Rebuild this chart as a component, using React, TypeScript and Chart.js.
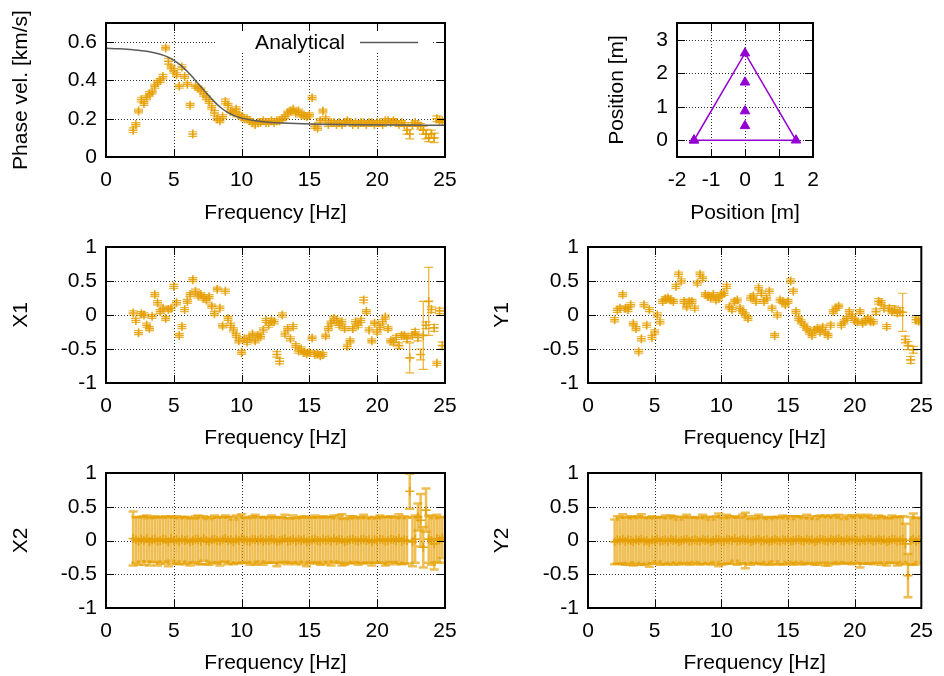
import React, { useEffect, useRef } from 'react';
import { Chart, registerables } from 'chart.js';

Chart.register(...registerables);

const FONT = '"Liberation Sans", Arial, Helvetica, sans-serif';
const TICK_SIZE = 21;
const TITLE_SIZE = 21;
const ORANGE = 'rgba(230,159,0,0.9)';
const ORANGE_BAR = 'rgba(230,159,0,0.8)';
const ORANGE_BAND = 'rgba(230,159,0,0.68)';
const PURPLE = '#9400d3';
const GREY = '#5a5a5a';

// ---------- data ----------
const freq = [
  2.0, 2.2, 2.4, 2.6, 2.8, 3.0, 3.2, 3.4, 3.6, 3.8,
  4.0, 4.2, 4.4, 4.6, 4.8, 5.0, 5.2, 5.4, 5.6, 5.8,
  6.0, 6.2, 6.4, 6.6, 6.8, 7.0, 7.2, 7.4, 7.6, 7.8,
  8.0, 8.2, 8.4, 8.6, 8.8, 9.0, 9.2, 9.4, 9.6, 9.8,
  10.0, 10.2, 10.4, 10.6, 10.8, 11.0, 11.2, 11.4, 11.6, 11.8,
  12.0, 12.2, 12.4, 12.6, 12.8, 13.0, 13.2, 13.4, 13.6, 13.8,
  14.0, 14.2, 14.4, 14.6, 14.8, 15.0, 15.2, 15.4, 15.6, 15.8,
  16.0, 16.2, 16.4, 16.6, 16.8, 17.0, 17.2, 17.4, 17.6, 17.8,
  18.0, 18.2, 18.4, 18.6, 18.8, 19.0, 19.2, 19.4, 19.6, 19.8,
  20.0, 20.2, 20.4, 20.6, 20.8, 21.0, 21.2, 21.4, 21.6, 21.8,
  22.0, 22.2, 22.4, 22.6, 22.8, 23.0, 23.2, 23.4, 23.6, 23.8,
  24.0, 24.2, 24.4, 24.6, 24.8,
];

const phaseVel = [
  0.14, 0.17, 0.24, 0.30, 0.28, 0.31, 0.33, 0.34, 0.37, 0.39,
  0.40, 0.42, 0.57, 0.50, 0.47, 0.45, 0.43, 0.37, 0.47, 0.42,
  0.38, 0.27, 0.12, 0.37, 0.36, 0.35, 0.33, 0.31, 0.29, 0.26,
  0.23, 0.20, 0.19, 0.21, 0.29, 0.27, 0.24, 0.23, 0.25, 0.22,
  0.21, 0.20, 0.20, 0.19, 0.18, 0.17, 0.18, 0.18, 0.19, 0.18,
  0.18, 0.19, 0.18, 0.19, 0.19, 0.20, 0.21, 0.23, 0.24, 0.25,
  0.23, 0.24, 0.22, 0.22, 0.21, 0.22, 0.31, 0.16, 0.15, 0.19,
  0.24, 0.20, 0.17, 0.18, 0.18, 0.17, 0.18, 0.17, 0.18, 0.19,
  0.18, 0.17, 0.18, 0.17, 0.18, 0.18, 0.17, 0.18, 0.18, 0.17,
  0.18, 0.18, 0.17, 0.19, 0.19, 0.18, 0.19, 0.18, 0.17, 0.18,
  0.17, 0.14, 0.12, 0.17, 0.18, 0.17, 0.16, 0.14, 0.12, 0.10,
  0.12, 0.10, 0.20, 0.19, 0.19,
];
const phaseErr = [
  0.012, 0.01, 0.01, 0.012, 0.01, 0.01, 0.012, 0.01, 0.01, 0.01,
  0.01, 0.012, 0.01, 0.015, 0.01, 0.012, 0.01, 0.01, 0.012, 0.01,
  0.01, 0.01, 0.012, 0.01, 0.01, 0.01, 0.012, 0.01, 0.01, 0.01,
  0.012, 0.01, 0.01, 0.01, 0.012, 0.01, 0.01, 0.01, 0.012, 0.01,
  0.01, 0.01, 0.01, 0.01, 0.01, 0.012, 0.01, 0.01, 0.01, 0.01,
  0.01, 0.01, 0.01, 0.01, 0.01, 0.01, 0.01, 0.01, 0.01, 0.01,
  0.01, 0.01, 0.01, 0.01, 0.01, 0.01, 0.01, 0.01, 0.01, 0.01,
  0.01, 0.01, 0.01, 0.01, 0.01, 0.01, 0.01, 0.01, 0.01, 0.01,
  0.01, 0.01, 0.01, 0.01, 0.01, 0.01, 0.01, 0.01, 0.01, 0.01,
  0.01, 0.01, 0.01, 0.01, 0.01, 0.01, 0.01, 0.01, 0.01, 0.01,
  0.01, 0.02, 0.025, 0.01, 0.01, 0.01, 0.015, 0.02, 0.025, 0.02,
  0.02, 0.025, 0.015, 0.01, 0.01,
];

const analyticFreq = [0, 1, 2, 3, 4, 4.5, 5, 5.5, 6, 6.5, 7, 7.5, 8, 8.5, 9, 9.5, 10, 11, 12, 13, 15, 18, 21, 25];
const analyticVel = [0.568, 0.565, 0.56, 0.552, 0.537, 0.524, 0.505, 0.48, 0.447, 0.408, 0.367, 0.326, 0.288, 0.256, 0.232, 0.215, 0.203, 0.189, 0.181, 0.177, 0.172, 0.169, 0.167, 0.166];

const x1 = [
  0.03, -0.08, -0.26, 0.02, 0.0, -0.15, -0.2, -0.02, 0.3, 0.18,
  0.05, 0.1, -0.05, 0.08, 0.1, 0.42, 0.18, -0.3, -0.17, 0.08,
  0.2, 0.3, 0.52, 0.35, 0.28, 0.3, 0.25, 0.22, 0.27, 0.13,
  0.02, 0.38, 0.1, -0.16, 0.35, -0.05, -0.15, -0.22, -0.3, -0.38,
  -0.55, -0.35, -0.4, -0.33, -0.28, -0.38, -0.3, -0.32, -0.22, -0.08,
  -0.15, -0.08, -0.1, -0.58, -0.68, 0.0, -0.28, -0.2, -0.35, -0.17,
  -0.45, -0.53, -0.5, -0.55, -0.57, -0.55, -0.34, -0.58, -0.57, -0.6,
  -0.58, -0.31, -0.2, -0.12, -0.05, -0.08, -0.15, -0.1, -0.2, -0.46,
  -0.38, -0.2, -0.1, -0.15, -0.08, 0.22, 0.05, -0.22, -0.38, -0.12,
  -0.25, -0.18, -0.1, -0.03, -0.2, -0.38, -0.4, -0.33, -0.45, -0.3,
  -0.3, -0.35, -0.63, -0.3, -0.25, -0.33, -0.58, -0.3, -0.15, 0.2,
  0.08, -0.19, -0.71, 0.06, -0.45,
];
const x1Err = [
  0.03, 0.03, 0.03, 0.03, 0.03, 0.03, 0.03, 0.03, 0.03, 0.03,
  0.03, 0.03, 0.03, 0.03, 0.03, 0.03, 0.03, 0.03, 0.03, 0.03,
  0.03, 0.03, 0.03, 0.03, 0.03, 0.03, 0.03, 0.03, 0.03, 0.03,
  0.03, 0.03, 0.03, 0.03, 0.03, 0.03, 0.03, 0.03, 0.03, 0.03,
  0.03, 0.03, 0.03, 0.03, 0.03, 0.03, 0.03, 0.03, 0.03, 0.03,
  0.03, 0.03, 0.03, 0.04, 0.04, 0.03, 0.03, 0.03, 0.03, 0.03,
  0.03, 0.03, 0.03, 0.03, 0.03, 0.03, 0.03, 0.03, 0.03, 0.03,
  0.03, 0.03, 0.03, 0.03, 0.03, 0.03, 0.03, 0.03, 0.03, 0.03,
  0.03, 0.03, 0.03, 0.03, 0.03, 0.04, 0.03, 0.03, 0.03, 0.03,
  0.03, 0.03, 0.03, 0.03, 0.03, 0.03, 0.04, 0.03, 0.04, 0.03,
  0.03, 0.04, 0.22, 0.03, 0.04, 0.05, 0.08, 0.5, 0.05, 0.5,
  0.04, 0.05, 0.03, 0.04, 0.05,
];

const y1 = [
  -0.07, 0.07, 0.1, 0.3, 0.1, 0.08, 0.15, -0.13, -0.2, -0.54,
  -0.35, 0.15, -0.15, 0.08, -0.33, -0.25, 0.0, -0.1, 0.2, 0.24,
  0.25, 0.22, 0.2, 0.42, 0.6, 0.5, 0.2, 0.12, 0.2, 0.2,
  0.1, 0.47, 0.6, 0.54, 0.3, 0.28, 0.25, 0.3, 0.22, 0.25,
  0.3, 0.32, 0.42, 0.12, 0.08, 0.2, 0.22, 0.1, 0.05, 0.0,
  -0.05, 0.25, 0.28, 0.2, 0.4, 0.32, 0.2, 0.25, 0.35, 0.1,
  -0.3, 0.0, 0.22, 0.2, 0.15, 0.2, 0.5, 0.35, 0.05, -0.05,
  -0.1, -0.15, -0.2, -0.25, -0.3, -0.22, -0.2, -0.25, -0.18, -0.25,
  -0.3, -0.15, 0.05, 0.1, 0.13, -0.15, -0.1, -0.05, 0.05, -0.02,
  -0.08, -0.1, 0.05, -0.12, -0.08, -0.05, -0.1, -0.1, 0.05, 0.2,
  0.18, 0.1, -0.17, 0.1, 0.05, 0.08, 0.03, 0.05, 0.04, -0.36,
  -0.45, -0.66, -0.51, -0.07, -0.09,
];
const y1Err = [
  0.03, 0.03, 0.03, 0.03, 0.03, 0.03, 0.03, 0.03, 0.03, 0.03,
  0.03, 0.03, 0.03, 0.03, 0.03, 0.03, 0.03, 0.03, 0.03, 0.03,
  0.03, 0.03, 0.03, 0.03, 0.03, 0.03, 0.03, 0.03, 0.03, 0.03,
  0.03, 0.03, 0.03, 0.03, 0.03, 0.03, 0.03, 0.03, 0.03, 0.03,
  0.03, 0.03, 0.03, 0.03, 0.03, 0.03, 0.03, 0.03, 0.03, 0.03,
  0.03, 0.03, 0.03, 0.03, 0.03, 0.03, 0.03, 0.03, 0.03, 0.03,
  0.03, 0.03, 0.03, 0.03, 0.03, 0.03, 0.03, 0.03, 0.03, 0.03,
  0.03, 0.03, 0.03, 0.03, 0.03, 0.03, 0.03, 0.03, 0.03, 0.03,
  0.03, 0.03, 0.03, 0.03, 0.03, 0.03, 0.03, 0.03, 0.03, 0.03,
  0.03, 0.03, 0.03, 0.03, 0.03, 0.03, 0.03, 0.03, 0.04, 0.04,
  0.03, 0.03, 0.03, 0.04, 0.03, 0.05, 0.04, 0.06, 0.28, 0.05,
  0.06, 0.05, 0.05, 0.04, 0.04,
];

const x2 = [
  0.03, 0.01, -0.01, 0.02, 0.0, 0.03, -0.02, 0.01, 0.02, -0.01,
  0.0, 0.02, 0.01, -0.02, 0.03, 0.0, 0.01, -0.01, 0.02, 0.0,
  0.01, -0.02, 0.0, 0.02, 0.01, -0.01, 0.03, 0.0, -0.02, 0.01,
  0.02, 0.0, -0.01, 0.01, 0.03, 0.0, 0.01, -0.02, 0.02, 0.0,
  0.03, 0.01, 0.0, -0.01, 0.02, 0.01, 0.0, 0.02, -0.01, 0.01,
  0.0, 0.02, 0.01, -0.02, 0.0, 0.01, 0.03, -0.01, 0.0, 0.02,
  -0.01, 0.01, 0.0, 0.02, -0.02, 0.0, 0.01, 0.02, 0.0, -0.01,
  0.02, 0.0, 0.01, -0.01, 0.03, 0.0, 0.02, 0.01, -0.02, 0.0,
  0.01, 0.02, 0.0, -0.01, 0.01, 0.02, 0.0, 0.01, -0.02, 0.01,
  0.0, 0.02, 0.01, -0.01, 0.0, 0.02, 0.01, 0.0, 0.03, -0.01,
  0.01, 0.0, 0.73, -0.02, 0.02, 0.35, 0.3, -0.1, 0.45, 0.02,
  0.0, -0.05, 0.03, 0.01, 0.04,
];
const x2Err = [
  0.40, 0.34, 0.35, 0.33, 0.36, 0.34, 0.35, 0.33, 0.34, 0.36,
  0.34, 0.33, 0.35, 0.36, 0.33, 0.34, 0.35, 0.34, 0.33, 0.35,
  0.34, 0.35, 0.33, 0.34, 0.36, 0.34, 0.33, 0.35, 0.34, 0.33,
  0.35, 0.34, 0.36, 0.33, 0.34, 0.35, 0.34, 0.33, 0.35, 0.34,
  0.36, 0.34, 0.33, 0.35, 0.34, 0.37, 0.34, 0.33, 0.35, 0.34,
  0.33, 0.35, 0.34, 0.36, 0.34, 0.33, 0.35, 0.34, 0.33, 0.35,
  0.34, 0.33, 0.35, 0.34, 0.36, 0.34, 0.33, 0.35, 0.34, 0.35,
  0.34, 0.35, 0.33, 0.36, 0.34, 0.33, 0.35, 0.38, 0.34, 0.33,
  0.35, 0.34, 0.33, 0.35, 0.34, 0.36, 0.33, 0.34, 0.35, 0.34,
  0.33, 0.35, 0.34, 0.36, 0.35, 0.34, 0.33, 0.35, 0.36, 0.34,
  0.35, 0.34, 0.26, 0.36, 0.35, 0.2, 0.39, 0.3, 0.32, 0.35,
  0.36, 0.38, 0.35, 0.34, 0.3,
];

const y2 = [
  -0.02, 0.01, 0.0, 0.02, -0.01, 0.01, 0.0, -0.02, 0.01, 0.0,
  0.02, -0.01, 0.0, -0.03, 0.01, 0.0, 0.02, -0.01, 0.0, 0.01,
  -0.01, 0.02, 0.0, 0.01, -0.02, 0.0, 0.01, 0.02, -0.01, 0.0,
  0.01, 0.0, -0.01, 0.02, 0.0, 0.01, -0.02, 0.0, 0.02, 0.01,
  0.0, -0.01, 0.02, 0.01, 0.0, 0.03, -0.01, 0.0, 0.02, 0.0,
  0.01, -0.02, 0.0, 0.01, 0.02, -0.01, 0.0, 0.01, -0.02, 0.0,
  0.02, 0.0, -0.01, 0.01, 0.0, 0.02, -0.01, 0.0, 0.01, 0.02,
  0.0, -0.01, 0.02, 0.0, 0.01, -0.02, 0.0, 0.02, 0.01, 0.0,
  -0.01, 0.02, 0.0, 0.01, 0.03, 0.0, -0.01, 0.02, 0.0, 0.01,
  0.02, 0.0, -0.01, 0.01, 0.0, 0.02, 0.01, -0.01, 0.0, 0.02,
  0.0, 0.01, -0.02, 0.0, 0.02, 0.01, -0.01, 0.0, 0.02, -0.05,
  -0.52, 0.0, 0.02, -0.01, 0.01,
];
const y2Err = [
  0.33, 0.35, 0.34, 0.37, 0.35, 0.34, 0.36, 0.35, 0.34, 0.36,
  0.37, 0.35, 0.34, 0.36, 0.35, 0.34, 0.33, 0.35, 0.34, 0.36,
  0.34, 0.35, 0.36, 0.34, 0.33, 0.35, 0.34, 0.36, 0.35, 0.34,
  0.33, 0.35, 0.34, 0.36, 0.35, 0.34, 0.33, 0.35, 0.34, 0.39,
  0.35, 0.34, 0.36, 0.35, 0.34, 0.33, 0.35, 0.34, 0.36, 0.41,
  0.35, 0.34, 0.33, 0.35, 0.36, 0.34, 0.35, 0.33, 0.34, 0.35,
  0.33, 0.35, 0.34, 0.36, 0.35, 0.34, 0.33, 0.36, 0.35, 0.34,
  0.35, 0.34, 0.36, 0.33, 0.35, 0.34, 0.36, 0.35, 0.34, 0.37,
  0.36, 0.35, 0.34, 0.36, 0.35, 0.34, 0.33, 0.35, 0.34, 0.36,
  0.35, 0.34, 0.39, 0.35, 0.34, 0.36, 0.35, 0.34, 0.33, 0.35,
  0.36, 0.34, 0.35, 0.33, 0.35, 0.34, 0.36, 0.35, 0.34, 0.3,
  0.32, 0.35, 0.38, 0.34, 0.33,
];

const arrayX = [-1.5, 0, 1.5, -1.5];
const arrayY = [0, 2.6, 0, 0];
const innerX = [0, 0, 0];
const innerY = [1.73, 0.87, 0.43];

const freqTicks = [0, 5, 10, 15, 20, 25];
const phaseTicks = [0, 0.2, 0.4, 0.6];
const compTicks = [-1, -0.5, 0, 0.5, 1];
const posXTicks = [-2, -1, 0, 1, 2];
const posYTicks = [0, 1, 2, 3];

// ---------- helpers ----------
const pts = (xs: number[], ys: number[]) => xs.map((x, i) => ({ x, y: ys[i] }));

function errSet(vals: number[], errs: number[], barColor: string, barWidth: number) {
  return {
    data: pts(freq, vals),
    errors: errs,
    barColor,
    barWidth,
    showLine: false,
    pointStyle: 'cross',
    pointRadius: 4.5,
    pointBorderWidth: 1.6,
    pointBorderColor: ORANGE,
    pointBackgroundColor: ORANGE,
    borderColor: ORANGE,
    backgroundColor: ORANGE,
  };
}

type Spec = {
  x: number; y: number; w: number; h: number;
  area: { left: number; top: number; right: number; bottom: number };
  xMin: number; xMax: number; yMin: number; yMax: number;
  xTicks: number[]; yTicks: number[];
  xTitle: string; yTitle: string;
  xTitlePad: number; yTitlePad: number;
  key?: string;
  datasets: any[];
};

function framePlugin(s: Spec) {
  const TL = 8;
  return {
    id: 'gnuframe',
    beforeDatasetsDraw(chart: any) {
      const { ctx, chartArea: a } = chart;
      const xs = chart.scales.x;
      const ys = chart.scales.y;
      ctx.save();
      ctx.strokeStyle = 'rgba(0,0,0,0.8)';
      ctx.lineWidth = 1;
      ctx.setLineDash([1, 2]);
      ctx.beginPath();
      for (const v of s.xTicks) {
        if (v <= s.xMin || v >= s.xMax) continue;
        const px = Math.round(xs.getPixelForValue(v)) + 0.5;
        ctx.moveTo(px, a.top);
        ctx.lineTo(px, a.bottom);
      }
      for (const v of s.yTicks) {
        if (v <= s.yMin || v >= s.yMax) continue;
        const py = Math.round(ys.getPixelForValue(v)) + 0.5;
        ctx.moveTo(a.left, py);
        ctx.lineTo(a.right, py);
      }
      ctx.stroke();
      ctx.setLineDash([]);
      ctx.beginPath();
      ctx.rect(a.left, a.top, a.right - a.left, a.bottom - a.top);
      ctx.clip();
      for (const ds of chart.data.datasets) {
        if (!ds.errors) continue;
        ctx.strokeStyle = ds.barColor;
        ctx.lineWidth = ds.barWidth;
        ds.data.forEach((p: any, i: number) => {
          const e = ds.errors[i];
          const px = xs.getPixelForValue(p.x);
          const yt = ys.getPixelForValue(p.y + e);
          const yb = ys.getPixelForValue(p.y - e);
          ctx.beginPath();
          ctx.moveTo(px, yt);
          ctx.lineTo(px, yb);
          ctx.moveTo(px - 4.5, yt);
          ctx.lineTo(px + 4.5, yt);
          ctx.moveTo(px - 4.5, yb);
          ctx.lineTo(px + 4.5, yb);
          ctx.stroke();
        });
      }
      ctx.restore();
    },
    afterDatasetsDraw(chart: any) {
      const { ctx, chartArea: a } = chart;
      const xs = chart.scales.x;
      const ys = chart.scales.y;
      ctx.save();
      if (s.key) {
        ctx.fillStyle = '#fff';
        ctx.fillRect(a.right - 229, a.top + 1, 216, 28);
        ctx.fillStyle = '#000';
        ctx.font = `${TITLE_SIZE}px ${FONT}`;
        ctx.textAlign = 'right';
        ctx.textBaseline = 'middle';
        ctx.fillText(s.key, a.right - 100, a.top + 20);
        ctx.strokeStyle = GREY;
        ctx.lineWidth = 1.5;
        ctx.beginPath();
        ctx.moveTo(a.right - 85, a.top + 19.5);
        ctx.lineTo(a.right - 27, a.top + 19.5);
        ctx.stroke();
      }
      ctx.strokeStyle = '#000';
      ctx.lineWidth = 1;
      ctx.beginPath();
      for (const v of s.xTicks) {
        const px = Math.round(xs.getPixelForValue(v)) + 0.5;
        ctx.moveTo(px, a.bottom);
        ctx.lineTo(px, a.bottom - TL);
        ctx.moveTo(px, a.top);
        ctx.lineTo(px, a.top + TL);
      }
      for (const v of s.yTicks) {
        const py = Math.round(ys.getPixelForValue(v)) + 0.5;
        ctx.moveTo(a.left, py);
        ctx.lineTo(a.left + TL, py);
        ctx.moveTo(a.right, py);
        ctx.lineTo(a.right - TL, py);
      }
      ctx.stroke();
      ctx.lineWidth = 2;
      ctx.strokeRect(a.left, a.top, a.right - a.left, a.bottom - a.top);
      ctx.restore();
    },
  };
}

function makeConfig(s: Spec): any {
  const tickFont = { family: FONT, size: TICK_SIZE };
  const titleFont = { family: FONT, size: TITLE_SIZE };
  return {
    type: 'scatter',
    data: { datasets: s.datasets },
    options: {
      responsive: false,
      maintainAspectRatio: false,
      animation: false,
      events: [],
      layout: { padding: { left: 0, top: s.area.top, right: s.w - s.area.right, bottom: 0 } },
      plugins: { legend: { display: false }, tooltip: { enabled: false } },
      scales: {
        x: {
          type: 'linear',
          position: 'bottom',
          min: s.xMin,
          max: s.xMax,
          afterBuildTicks: (sc: any) => { sc.ticks = s.xTicks.map((v) => ({ value: v })); },
          afterFit: (sc: any) => { sc.height = s.h - s.area.bottom; },
          grid: { display: false, drawTicks: false },
          border: { display: false },
          ticks: { font: tickFont, color: '#000', padding: 11, maxRotation: 0, autoSkip: false, callback: (v: any) => String(v) },
          title: { display: true, text: s.xTitle, font: titleFont, color: '#000', padding: { top: 0, bottom: s.xTitlePad } },
        },
        y: {
          type: 'linear',
          position: 'left',
          min: s.yMin,
          max: s.yMax,
          afterBuildTicks: (sc: any) => { sc.ticks = s.yTicks.map((v) => ({ value: v })); },
          afterFit: (sc: any) => { sc.width = s.area.left; },
          grid: { display: false, drawTicks: false },
          border: { display: false },
          ticks: { font: tickFont, color: '#000', padding: 9, autoSkip: false, callback: (v: any) => String(v) },
          title: { display: true, text: s.yTitle, font: titleFont, color: '#000', padding: { top: s.yTitlePad, bottom: 0 } },
        },
      },
    },
    plugins: [framePlugin(s)],
  };
}

const specs: Spec[] = [
  {
    x: 0, y: 0, w: 470, h: 229,
    area: { left: 106, top: 23, right: 445, bottom: 157 },
    xMin: 0, xMax: 25, yMin: 0, yMax: 0.7,
    xTicks: freqTicks, yTicks: phaseTicks,
    xTitle: 'Frequency [Hz]', yTitle: 'Phase vel. [km/s]',
    xTitlePad: 3.5, yTitlePad: 9,
    key: 'Analytical',
    datasets: [
      {
        data: pts(analyticFreq, analyticVel),
        showLine: true,
        borderColor: GREY,
        borderWidth: 1.5,
        pointRadius: 0,
        cubicInterpolationMode: 'monotone',
        fill: false,
      },
      errSet(phaseVel, phaseErr, ORANGE_BAR, 1.2),
    ],
  },
  {
    x: 470, y: 0, w: 474, h: 229,
    area: { left: 207, top: 23, right: 343, bottom: 157 },
    xMin: -2, xMax: 2, yMin: -0.5, yMax: 3.5,
    xTicks: posXTicks, yTicks: posYTicks,
    xTitle: 'Position [m]', yTitle: 'Position [m]',
    xTitlePad: 3.5, yTitlePad: 135,
    datasets: [
      {
        data: pts(arrayX, arrayY),
        showLine: true,
        borderColor: PURPLE,
        borderWidth: 1.5,
        pointStyle: 'triangle',
        pointRadius: 5.5,
        pointBackgroundColor: PURPLE,
        pointBorderColor: PURPLE,
        pointBorderWidth: 1,
        fill: false,
      },
      {
        data: pts(innerX, innerY),
        showLine: false,
        pointStyle: 'triangle',
        pointRadius: 5.5,
        pointBackgroundColor: PURPLE,
        pointBorderColor: PURPLE,
        pointBorderWidth: 1,
      },
    ],
  },
  {
    x: 0, y: 225, w: 470, h: 229,
    area: { left: 106, top: 22, right: 445, bottom: 158 },
    xMin: 0, xMax: 25, yMin: -1, yMax: 1,
    xTicks: freqTicks, yTicks: compTicks,
    xTitle: 'Frequency [Hz]', yTitle: 'X1',
    xTitlePad: 3, yTitlePad: 9,
    datasets: [errSet(x1, x1Err, ORANGE_BAR, 1.2)],
  },
  {
    x: 470, y: 225, w: 474, h: 229,
    area: { left: 118, top: 22, right: 457, bottom: 158 },
    xMin: 0, xMax: 25, yMin: -1, yMax: 1,
    xTicks: freqTicks, yTicks: compTicks,
    xTitle: 'Frequency [Hz]', yTitle: 'Y1',
    xTitlePad: 3, yTitlePad: 20,
    datasets: [errSet(y1, y1Err, ORANGE_BAR, 1.2)],
  },
  {
    x: 0, y: 450, w: 470, h: 229,
    area: { left: 106, top: 23, right: 445, bottom: 158 },
    xMin: 0, xMax: 25, yMin: -1, yMax: 1,
    xTicks: freqTicks, yTicks: compTicks,
    xTitle: 'Frequency [Hz]', yTitle: 'X2',
    xTitlePad: 3, yTitlePad: 9,
    datasets: [errSet(x2, x2Err, ORANGE_BAND, 2.5)],
  },
  {
    x: 470, y: 450, w: 474, h: 229,
    area: { left: 118, top: 23, right: 457, bottom: 158 },
    xMin: 0, xMax: 25, yMin: -1, yMax: 1,
    xTicks: freqTicks, yTicks: compTicks,
    xTitle: 'Frequency [Hz]', yTitle: 'Y2',
    xTitlePad: 3, yTitlePad: 20,
    datasets: [errSet(y2, y2Err, ORANGE_BAND, 2.5)],
  },
];

function Panel({ spec }: { spec: Spec }) {
  const ref = useRef<HTMLCanvasElement>(null);
  useEffect(() => {
    const chart = new Chart(ref.current as HTMLCanvasElement, makeConfig(spec));
    return () => chart.destroy();
  }, [spec]);
  return (
    <canvas
      ref={ref}
      width={spec.w}
      height={spec.h}
      style={{ position: 'absolute', left: spec.x, top: spec.y, width: spec.w, height: spec.h }}
    />
  );
}

export default function App() {
  return (
    <div style={{ position: 'fixed', left: 0, top: 0, width: 944, height: 676, background: '#fff', overflow: 'hidden' }}>
      {specs.map((s, i) => (
        <Panel key={i} spec={s} />
      ))}
    </div>
  );
}
